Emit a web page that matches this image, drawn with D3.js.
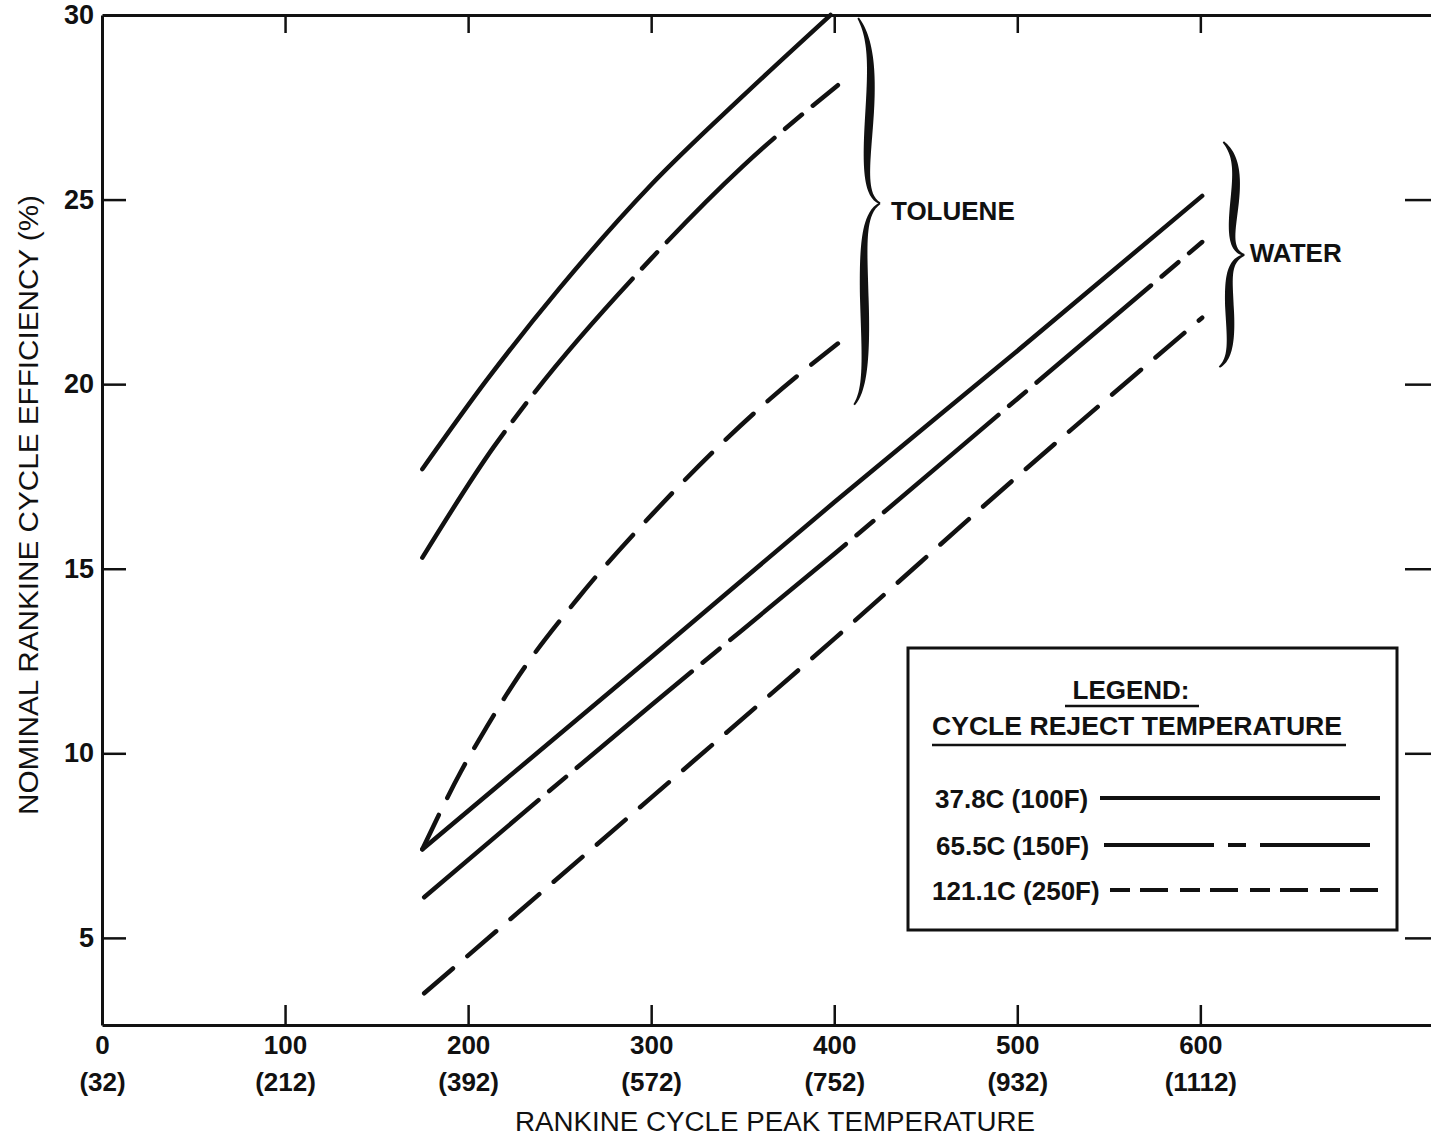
<!DOCTYPE html>
<html>
<head>
<meta charset="utf-8">
<script src="https://cdnjs.cloudflare.com/ajax/libs/d3/7.8.5/d3.min.js"></script>
<style>
  body { margin: 0; background: #fff; }
  svg { display: block; }
  text { font-family: "Liberation Sans", Arial, sans-serif; fill: #111; }
</style>
</head>
<body>
<svg id="chart"></svg>
<script>
// axis ticks
const tempTicksC = [0, 100, 200, 300, 400, 500, 600];
const tempTicksF = ["(32)", "(212)", "(392)", "(572)", "(752)", "(932)", "(1112)"];
const effTicks = [5, 10, 15, 20, 25, 30];

// series: [peak temperature C, efficiency %]
const toluene100F = [[175, 17.7], [210, 20.1], [250, 22.6], [300, 25.4], [350, 27.8], [398, 30.0]];
const toluene150F = [[175, 15.3], [214, 18.3], [232, 19.5], [300, 23.4], [350, 25.9], [402, 28.1]];
const toluene250F = [[175, 7.4], [196, 9.5], [210, 10.7], [225, 11.9], [260, 14.2], [301, 16.5], [365, 19.6], [402, 21.1]];
const water100F = [[175, 7.4], [300, 12.6], [400, 16.8], [500, 20.9], [601, 25.1]];
const water150F = [[176, 6.1], [300, 11.3], [400, 15.4], [500, 19.6], [601, 23.85]];
const water250F = [[176, 3.5], [300, 8.8], [400, 13.1], [500, 17.5], [601, 21.8]];

const legendLabels = ["37.8C (100F)", "65.5C (150F)", "121.1C (250F)"];
const groupLabels = ["TOLUENE", "WATER"];

const W = 1431, H = 1137;
const svg = d3.select('#chart').attr('width', W).attr('height', H);

const x = d3.scaleLinear().domain([0, 726]).range([102, 1431]);
const y = d3.scaleLinear().domain([2.64, 30]).range([1025, 15]);

// dash styles per reject temperature
const dashes = [null, "150,14,22,14", "38,19"];

// axes
const bottomAxis = svg.append('g')
    .attr('transform', `translate(0, ${y.range()[0]})`)
    .call(d3.axisBottom(x).tickValues(tempTicksC).tickSize(-20).tickSizeOuter(0).tickPadding(11));
bottomAxis.selectAll('text')
    .style('font-size', '26px').style('font-weight', 'bold').style('font-family', '"Liberation Sans", Arial');
bottomAxis.selectAll('.tick')
    .append('text')
    .attr('y', 66)
    .attr('text-anchor', 'middle')
    .style('font-size', '26px').style('font-weight', 'bold')
    .attr('fill', '#111')
    .text((d, i) => tempTicksF[i]);

const leftAxis = svg.append('g')
    .attr('transform', `translate(${x.range()[0]}, 0)`)
    .call(d3.axisLeft(y).tickValues(effTicks).tickSize(-24).tickSizeOuter(0).tickPadding(8));
leftAxis.selectAll('text')
    .style('font-size', '27px').style('font-weight', 'bold').style('font-family', '"Liberation Sans", Arial');
leftAxis.selectAll('.tick').filter(d => d === 30).select('line').remove();

const topAxis = svg.append('g')
    .attr('transform', `translate(0, ${y.range()[1]})`)
    .call(d3.axisTop(x).tickValues(tempTicksC.slice(1)).tickSize(-18).tickSizeOuter(0).tickFormat(''));

const rightAxis = svg.append('g')
    .attr('transform', `translate(${x.range()[1]}, 0)`)
    .call(d3.axisRight(y).tickValues(effTicks.slice(0, 5)).tickSize(-26).tickFormat(''));
rightAxis.select('.domain').remove();

svg.selectAll('.domain').attr('stroke', '#111').attr('stroke-width', 3);
svg.selectAll('.tick line').attr('stroke', '#111').attr('stroke-width', 2.5);

// axis titles
svg.append('text')
    .attr('x', 775).attr('y', 1131)
    .attr('text-anchor', 'middle')
    .attr('textLength', 520).attr('lengthAdjust', 'spacingAndGlyphs')
    .style('font-size', '27px')
    .text('RANKINE CYCLE PEAK TEMPERATURE');

svg.append('text')
    .attr('transform', 'translate(38, 505) rotate(-90)')
    .attr('text-anchor', 'middle')
    .attr('textLength', 620).attr('lengthAdjust', 'spacingAndGlyphs')
    .style('font-size', '27px')
    .text('NOMINAL RANKINE CYCLE EFFICIENCY (%)');

// curves
const curved = d3.line().x(d => x(d[0])).y(d => y(d[1])).curve(d3.curveMonotoneX);

const series = [
    { data: toluene100F, k: 0 }, { data: toluene150F, k: 1 }, { data: toluene250F, k: 2 },
    { data: water100F, k: 0 }, { data: water150F, k: 1 }, { data: water250F, k: 2 }
];

svg.append('g').selectAll('path')
    .data(series)
    .enter()
    .append('path')
    .attr('d', d => curved(d.data))
    .attr('fill', 'none')
    .attr('stroke', '#111')
    .attr('stroke-width', 4.5)
    .attr('stroke-linecap', 'round')
    .attr('stroke-linejoin', 'round')
    .attr('stroke-dasharray', d => dashes[d.k]);

// braces: sample a centre line, then fill a shape whose width swells in the middle of each half
function halfBrace(d) {
    const tmp = svg.append('path').attr('d', d).attr('fill', 'none');
    const node = tmp.node();
    const len = node.getTotalLength();
    const n = 60;
    const pts = [];
    for (let i = 0; i <= n; i++) pts.push(node.getPointAtLength(len * i / n));
    tmp.remove();
    const leftSide = [], rightSide = [];
    pts.forEach((p, i) => {
        const a = pts[Math.max(0, i - 1)], b = pts[Math.min(n, i + 1)];
        let dx = b.x - a.x, dy = b.y - a.y;
        const l = Math.hypot(dx, dy) || 1;
        dx /= l; dy /= l;
        const s = i / n;
        const w = 0.9 + 3.4 * Math.pow(Math.sin(Math.PI * s), 0.9);
        leftSide.push([p.x - dy * w, p.y + dx * w]);
        rightSide.push([p.x + dy * w, p.y - dx * w]);
    });
    return d3.line()(leftSide.concat(rightSide.reverse())) + 'Z';
}

function brace(cx, yTop, yBot, yTip, tipX) {
    const h = yTip - yTop;
    const hb = yBot - yTip;
    const upper = `M${cx - 5},${yTop} C${cx + 9},${yTop + 0.12 * h} ${cx + 9},${yTop + 0.3 * h} ${cx + 6},${yTop + 0.55 * h}
                   C${cx + 3},${yTop + 0.8 * h} ${cx + 1},${yTip - 0.04 * h} ${tipX},${yTip}`;
    const lower = `M${tipX},${yTip} C${cx},${yTip + 0.05 * hb} ${cx},${yTip + 0.2 * hb} ${cx + 1},${yTip + 0.45 * hb}
                   C${cx + 3},${yTip + 0.75 * hb} ${cx + 3},${yBot - 0.08 * hb} ${cx - 9},${yBot}`;
    svg.append('path').attr('d', halfBrace(upper)).attr('fill', '#111');
    svg.append('path').attr('d', halfBrace(lower)).attr('fill', '#111');
}

brace(x(415.8), y(29.92), y(19.44), y(24.9), x(425));
brace(x(615.3), y(26.56), y(20.46), y(23.5), x(624));

svg.append('text')
    .attr('x', x(431)).attr('y', y(24.7) + 9)
    .style('font-size', '26px').style('font-weight', 'bold')
    .text(groupLabels[0]);
svg.append('text')
    .attr('x', x(627)).attr('y', y(23.55) + 9)
    .style('font-size', '26px').style('font-weight', 'bold')
    .text(groupLabels[1]);

// legend
const lg = svg.append('g').attr('transform', 'translate(908, 648)');
lg.append('rect')
    .attr('width', 489).attr('height', 282)
    .attr('fill', '#fff').attr('stroke', '#111').attr('stroke-width', 3);

lg.append('text')
    .attr('x', 223).attr('y', 51)
    .attr('text-anchor', 'middle')
    .style('font-size', '26px').style('font-weight', 'bold')
    .text('LEGEND:');
lg.append('line')
    .attr('x1', 157).attr('x2', 291).attr('y1', 58).attr('y2', 58)
    .attr('stroke', '#111').attr('stroke-width', 2.5);
lg.append('text')
    .attr('x', 24).attr('y', 87)
    .attr('textLength', 410).attr('lengthAdjust', 'spacingAndGlyphs')
    .style('font-size', '26px').style('font-weight', 'bold')
    .text('CYCLE REJECT TEMPERATURE');
lg.append('line')
    .attr('x1', 24).attr('x2', 438).attr('y1', 97).attr('y2', 97)
    .attr('stroke', '#111').attr('stroke-width', 2.5);

const legendRows = lg.selectAll('g.row')
    .data(legendLabels)
    .enter()
    .append('g')
    .attr('class', 'row')
    .attr('transform', (d, i) => `translate(0, ${[160, 207, 252][i]})`);

legendRows.append('text')
    .attr('x', (d, i) => [27, 28, 24][i])
    .attr('y', 0)
    .style('font-size', '26px').style('font-weight', 'bold')
    .text(d => d);

legendRows.append('line')
    .attr('x1', (d, i) => [192, 196, 202][i])
    .attr('x2', 472)
    .attr('y1', -10).attr('y2', -10)
    .attr('stroke', '#111')
    .attr('stroke-width', 4)
    .attr('stroke-dasharray', (d, i) => [null, "110,14,18,14", "20,10,28,12"][i]);
</script>
</body>
</html>
